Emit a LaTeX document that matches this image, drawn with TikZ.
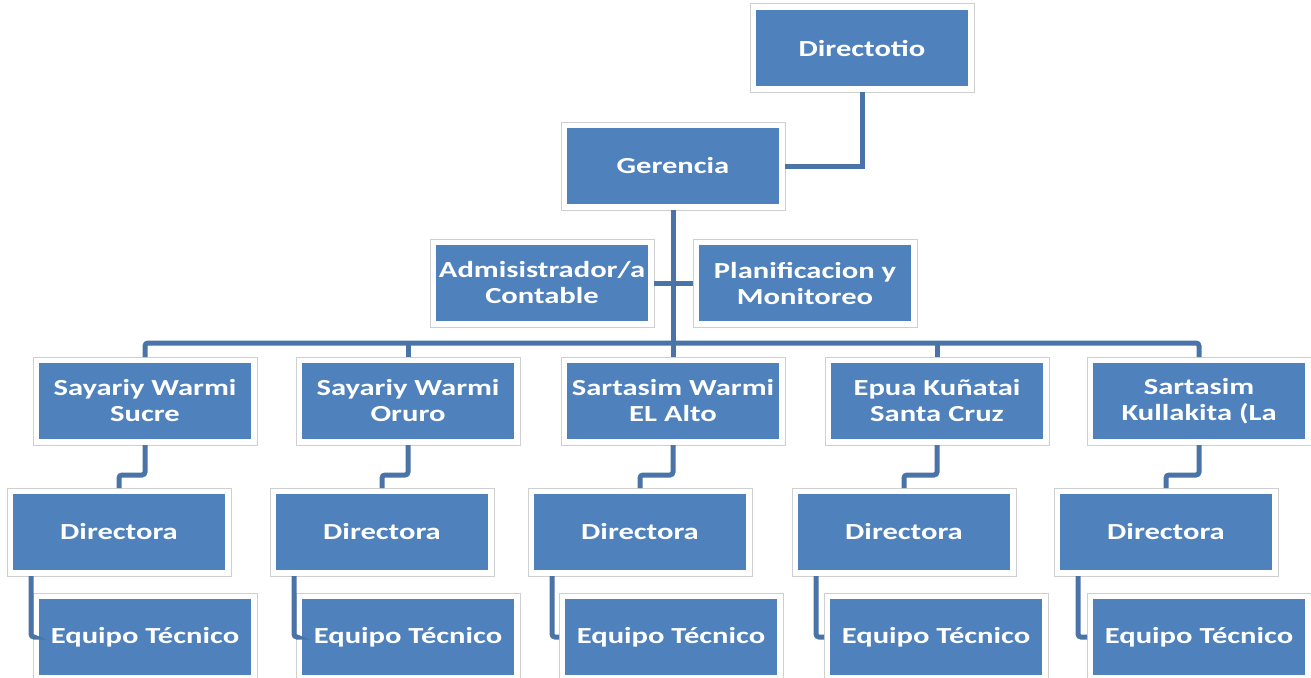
\documentclass[tikz,border=0pt]{standalone}
\usepackage{fontspec}
\newfontfamily\boxfont{Carlito}[FakeStretch=1.33]
\definecolor{boxblue}{HTML}{4F81BD}
\definecolor{linkblue}{HTML}{4A74A8}
\definecolor{framegray}{HTML}{CFCFCF}
\tikzset{
    unit/.style = {rectangle, fill=boxblue, text=white, align=center, inner sep=0pt,
        minimum width=212pt, minimum height=76pt, outer sep=6pt,
        font=\boxfont\bfseries\fontsize{23}{26}\selectfont,
        preaction={draw=framegray, line width=13pt},
        preaction={draw=white, line width=11pt}},
    link/.style = {linkblue, line width=5pt}
}
\begin{document}
\begin{tikzpicture}[x=1pt, y=-1pt]
            \clip (0,0) rectangle (1311,677);
            \fill[white] (0,0) rectangle (1311,677);
            \node[unit] (dir) at (862,48) {Directotio};
            \node[unit] (ger) at (673,166) {Gerencia};
            \node[unit] (adm) at (542,283) {Admisistrador/a\\Contable};
            \node[unit] (pla) at (805,283) {Planificacion y\\Monitoreo};

            \node[unit] (sucre) at (145,401) {Sayariy Warmi\\Sucre};
            \node[unit] (oruro) at (408,401) {Sayariy Warmi\\Oruro};
            \node[unit] (elalto) at (673,401) {Sartasim Warmi\\EL Alto};
            \node[unit] (scruz) at (937,401) {Epua Kuñatai\\Santa Cruz};
            \node[unit] (lapaz) at (1199,401) {Sartasim\\Kullakita (La};

            \node[unit] (d-sucre) at (119,532) {Directora};
            \node[unit] (d-oruro) at (382,532) {Directora};
            \node[unit] (d-elalto) at (640,532) {Directora};
            \node[unit] (d-scruz) at (904,532) {Directora};
            \node[unit] (d-lapaz) at (1166,532) {Directora};

            \node[unit] (e-sucre) at (145,637) {Equipo Técnico};
            \node[unit] (e-oruro) at (408,637) {Equipo Técnico};
            \node[unit] (e-elalto) at (671,637) {Equipo Técnico};
            \node[unit] (e-scruz) at (936,637) {Equipo Técnico};
            \node[unit] (e-lapaz) at (1199,637) {Equipo Técnico};

            \draw[link] (dir.south) |- (ger.east);
            \draw[link] (ger.south) -- (ger.south |- elalto.north);
            \draw[link] (adm.east) -- (pla.west);
            \draw[link, rounded corners=3pt] (sucre.north) -- ++(0,-14) -| (lapaz.north);
            \draw[link] (oruro.north) -- ++(0,-14);
            \draw[link] (scruz.north) -- ++(0,-14);

            \draw[link, rounded corners=3pt] (sucre.south) -- ++(0,30) -| (d-sucre.north);
            \draw[link, rounded corners=3pt] (oruro.south) -- ++(0,30) -| (d-oruro.north);
            \draw[link, rounded corners=3pt] (elalto.south) -- ++(0,30) -| (d-elalto.north);
            \draw[link, rounded corners=3pt] (scruz.south) -- ++(0,30) -| (d-scruz.north);
            \draw[link, rounded corners=3pt] (lapaz.south) -- ++(0,30) -| (d-lapaz.north);

            \draw[link, rounded corners=3pt] ([xshift=24pt]d-sucre.south west) |- (e-sucre.west);
            \draw[link, rounded corners=3pt] ([xshift=24pt]d-oruro.south west) |- (e-oruro.west);
            \draw[link, rounded corners=3pt] ([xshift=24pt]d-elalto.south west) |- (e-elalto.west);
            \draw[link, rounded corners=3pt] ([xshift=24pt]d-scruz.south west) |- (e-scruz.west);
            \draw[link, rounded corners=3pt] ([xshift=24pt]d-lapaz.south west) |- (e-lapaz.west);
        \end{tikzpicture}
\end{document}
